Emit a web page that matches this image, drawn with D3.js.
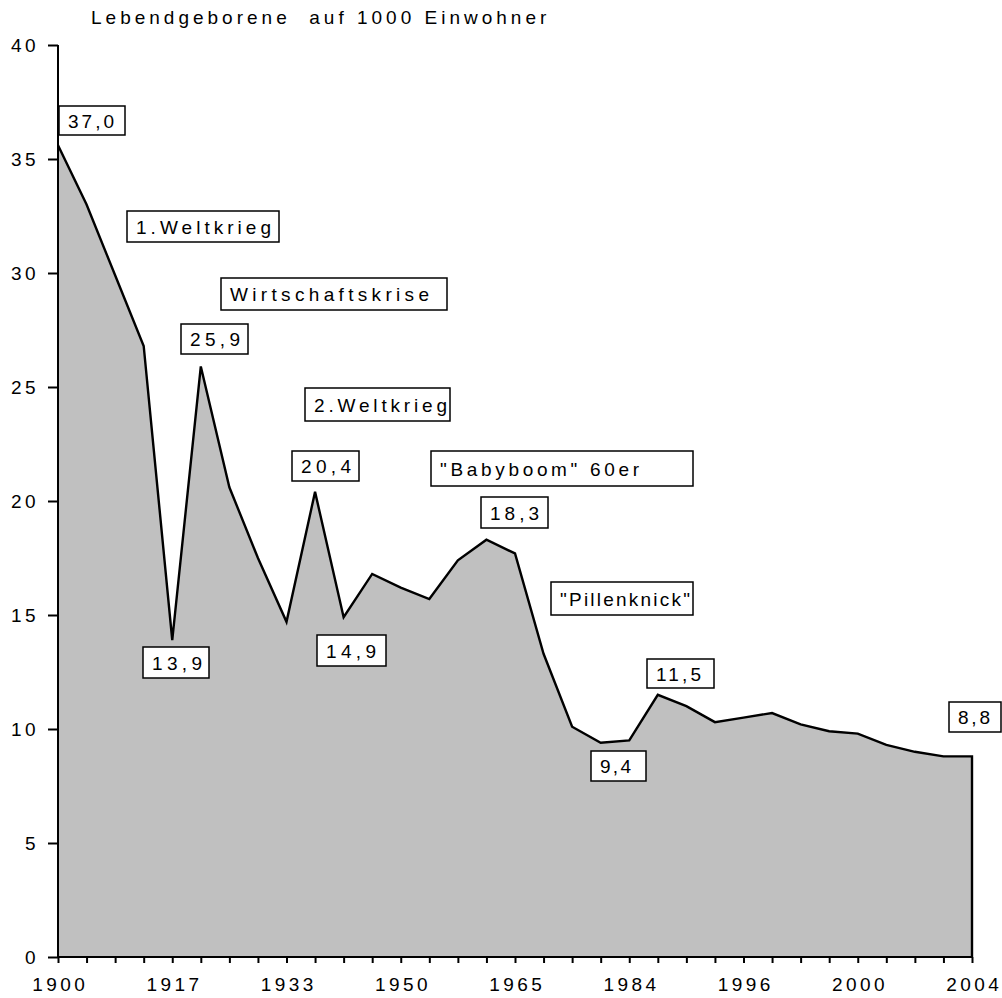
<!DOCTYPE html>
<html>
<head>
  <meta charset="utf-8">
  <title>Lebendgeborene auf 1000 Einwohner</title>
  <script src="https://d3js.org/d3.v7.min.js"></script>
  <style type="text/css">
    body { margin: 0; background: #fff; }
    svg { font-family: "Liberation Sans", Arial, sans-serif; }
    .axis text { font-size: 19px; letter-spacing: 3.4px; fill: #000; }
    .axis path, .axis line { stroke: #000; stroke-width: 2px; }
    .note text { font-size: 19px; fill: #000; }
  </style>
</head>
<body>
  <div id="chart"></div>
  <script type="text/javascript">
    // Lebendgeborene je 1000 Einwohner
    var werte = [35.6, 33.0, 29.9, 26.8, 13.9, 25.9, 20.6, 17.5, 14.7, 20.4, 14.9,
                 16.8, 16.2, 15.7, 17.4, 18.3, 17.7, 13.3, 10.1, 9.4, 9.5, 11.5,
                 11.0, 10.3, 10.5, 10.7, 10.2, 9.9, 9.8, 9.3, 9.0, 8.8, 8.8];
    var jahrLabels = ["1900", "1917", "1933", "1950", "1965", "1984", "1996", "2000", "2004"];
    var yTicks = [0, 5, 10, 15, 20, 25, 30, 35, 40];
    var titel = "Lebendgeborene  auf 1000 Einwohner";

    // Beschriftungen
    var notizText = ["37,0", "1.Weltkrieg", "Wirtschaftskrise", "25,9", "2.Weltkrieg",
                     "20,4", "\"Babyboom\" 60er", "18,3", "\"Pillenknick\"",
                     "13,9", "14,9", "11,5", "9,4", "8,8"];
    // Box-Lage in Pixeln: [links, oben, rechts, unten]
    var notizBox = [[59, 106, 125, 135], [127, 211, 279, 242], [221, 278, 447, 310],
                    [181, 324, 248, 354], [305, 388, 450, 421], [292, 451, 359, 481],
                    [431, 451, 693, 486], [481, 497, 548, 528], [551, 582, 693, 615],
                    [143, 647, 209, 678], [317, 635, 386, 666], [647, 659, 714, 688],
                    [591, 751, 646, 781], [949, 702, 1001, 732]];
    // Textbreite in Pixeln
    var notizBreite = [46, 135, 199, 50, 133, 50, 199, 49, 130, 50, 50, 45, 31, 32];

    var width = 1002, height = 998;
    var x0 = 58, x1 = 972, yTop = 45, yBottom = 957;

    var svg = d3.select("#chart").append("svg")
      .attr("width", width)
      .attr("height", height);

    var x = d3.scaleLinear().domain([0, werte.length - 1]).range([x0, x1]);
    var y = d3.scaleLinear().domain([0, 40]).range([yBottom, yTop]);

    var area = d3.area()
      .x(function (d, i) { return x(i); })
      .y0(y(0))
      .y1(function (d) { return y(d); });

    svg.append("path")
      .datum(werte)
      .attr("d", area)
      .attr("fill", "#c0c0c0")
      .attr("stroke", "none");

    // Linie inkl. rechter Kante
    var linie = d3.line()
      .x(function (d) { return x(d[0]); })
      .y(function (d) { return y(d[1]); });
    var punkte = werte.map(function (d, i) { return [i, d]; });
    punkte.push([werte.length - 1, 0]);

    svg.append("path")
      .datum(punkte)
      .attr("d", linie)
      .attr("fill", "none")
      .attr("stroke", "#000")
      .attr("stroke-width", 2.4)
      .attr("stroke-linejoin", "miter");

    // Achsen
    var xAxis = d3.axisBottom(x)
      .tickValues(d3.range(werte.length))
      .tickSize(6)
      .tickPadding(15)
      .tickFormat(function (i) { return i % 4 === 0 ? jahrLabels[i / 4] : ""; });

    svg.append("g")
      .attr("class", "axis")
      .attr("transform", "translate(0," + yBottom + ")")
      .call(xAxis)
      .call(function (g) { g.select(".domain").attr("d", "M" + x0 + ",0H" + x1); })
      .selectAll("text").attr("dx", "1.7px");

    var yAxis = d3.axisLeft(y)
      .tickValues(yTicks)
      .tickSize(10)
      .tickPadding(9);

    svg.append("g")
      .attr("class", "axis")
      .attr("transform", "translate(" + x0 + ",0)")
      .call(yAxis)
      .call(function (g) { g.select(".domain").attr("d", "M0," + yTop + "V" + yBottom); })
      .selectAll("text").attr("dy", "0.35em");

    // Titel
    svg.append("text")
      .attr("x", 91)
      .attr("y", 24)
      .style("font-size", "19px")
      .style("letter-spacing", "4px")
      .attr("xml:space", "preserve")
      .style("white-space", "pre")
      .text(titel);

    // Notizen
    var notiz = svg.selectAll(".note")
      .data(notizText)
      .enter()
      .append("g")
      .attr("class", "note");

    notiz.append("rect")
      .attr("x", function (d, i) { return notizBox[i][0]; })
      .attr("y", function (d, i) { return notizBox[i][1]; })
      .attr("width", function (d, i) { return notizBox[i][2] - notizBox[i][0]; })
      .attr("height", function (d, i) { return notizBox[i][3] - notizBox[i][1]; })
      .attr("fill", "#fff")
      .attr("stroke", "#000")
      .attr("stroke-width", 1.5);

    notiz.append("text")
      .attr("x", function (d, i) { return notizBox[i][0] + 9; })
      .attr("y", function (d, i) { return (notizBox[i][1] + notizBox[i][3]) / 2 + 7; })
      .attr("textLength", function (d, i) { return notizBreite[i]; })
      .attr("lengthAdjust", "spacing")
      .text(function (d) { return d; });
  </script>
</body>
</html>
